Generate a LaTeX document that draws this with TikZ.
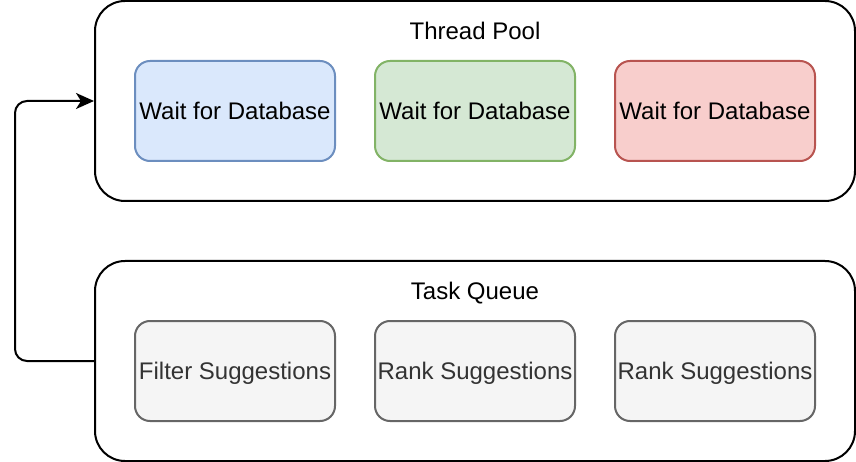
\documentclass[tikz,border=0pt]{standalone}
\usepackage{fontspec}
\setmainfont{Liberation Sans}
\usetikzlibrary{arrows.meta}
\definecolor{bfill}{HTML}{DAE8FC}\definecolor{bline}{HTML}{6C8EBF}
\definecolor{gfill}{HTML}{D5E8D4}\definecolor{gline}{HTML}{82B366}
\definecolor{rfill}{HTML}{F8CECC}\definecolor{rline}{HTML}{B85450}
\definecolor{kfill}{HTML}{F5F5F5}\definecolor{kline}{HTML}{666666}
\definecolor{ktext}{HTML}{333333}
\tikzset{
  container/.style={draw=black, line width=2pt, rounded corners=30pt, minimum width=760pt, minimum height=200pt, inner sep=0pt},
  task/.style={line width=2pt, rounded corners=15pt, minimum width=200pt, minimum height=100pt, inner sep=0pt, text height=17.2pt, text depth=0pt, font=\fontsize{24}{29}\selectfont},
  title/.style={font=\fontsize{24}{29}\selectfont, inner sep=0pt, text height=17.2pt, text depth=0pt},
  flow/.style={draw=black, line width=2pt, rounded corners=12pt, -{Stealth[length=18pt,width=16pt,inset=5pt]}},
}
\begin{document}
\begin{tikzpicture}[x=1pt,y=-1pt]
\useasboundingbox (0,0) rectangle (856,462);
\node[container] (pool) at (475,101) {};
\node[title] (pooltitle) at (475,31) {Thread Pool};
\node[task, draw=bline, fill=bfill] (w1) at (235,111) {Wait for Database};
\node[task, draw=gline, fill=gfill] (w2) at (475,111) {Wait for Database};
\node[task, draw=rline, fill=rfill] (w3) at (715,111) {Wait for Database};
\node[container] (queue) at (475,361) {};
\node[title] (queuetitle) at (475,291) {Task Queue};
\node[task, draw=kline, fill=kfill, text=ktext] (q1) at (235,371) {Filter Suggestions};
\node[task, draw=kline, fill=kfill, text=ktext] (q2) at (475,371) {Rank Suggestions};
\node[task, draw=kline, fill=kfill, text=ktext] (q3) at (715,371) {Rank Suggestions};
\coordinate (c1) at (15,361);
\coordinate (c2) at (15,101);
\draw[flow] (queue.west) -- (c1) -- (c2) -- (pool.west);
\end{tikzpicture}
\end{document}
